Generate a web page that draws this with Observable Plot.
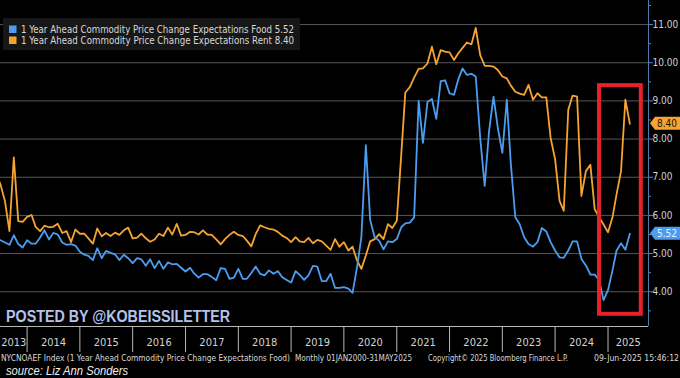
<!DOCTYPE html>
<html>
<head>
<meta charset="utf-8">
<script src="https://cdn.jsdelivr.net/npm/d3@7"></script>
<script src="https://cdn.jsdelivr.net/npm/@observablehq/plot@0.6"></script>
<style>
  body { margin: 0; background: #000; }
  #wrap { position: relative; width: 680px; height: 378px; overflow: hidden; background: #000; }
  #wrap svg { display: block; }
  #overlay { position: absolute; left: 0; top: 0; pointer-events: none; }
</style>
</head>
<body>
<div id="wrap"></div>
<script>
// ---------- data (monthly, first value is June 2013, last is May 2025) ----------
const startMonth = new Date(Date.UTC(2013, 5, 1));

const foodValues = [
  5.40,
  5.35, 5.29, 5.23, 5.48, 5.25, 5.16, 5.35, 5.26, 5.26, 5.42, 5.61, 5.37, 5.54, 5.50, 5.29, 5.23,
  5.25, 5.21, 5.05, 4.97, 4.94, 4.83, 5.14, 4.88, 5.07, 5.02, 4.98, 4.83, 4.97, 4.88, 4.75, 4.88,
  4.85, 4.68, 4.85, 4.62, 4.81, 4.60, 4.77, 4.72, 4.73, 4.63, 4.53, 4.63, 4.48, 4.37, 4.46, 4.46,
  4.39, 4.30, 4.62, 4.60, 4.34, 4.37, 4.60, 4.34, 4.34, 4.49, 4.66, 4.47, 4.43, 4.56, 4.47, 4.54,
  4.38, 4.31, 4.24, 4.54, 4.44, 4.31, 4.43, 4.68, 4.66, 4.28, 4.28, 4.47, 4.10, 4.10, 4.12, 4.08,
  3.97, 4.64, 5.43, 7.84, 5.88, 5.43, 5.34, 5.11, 5.32, 5.30, 5.38, 5.69, 5.79, 5.81, 5.95, 9.00,
  7.90, 8.97, 9.05, 8.53, 9.52, 9.54, 9.20, 9.16, 9.55, 9.85, 9.68, 9.71, 9.64, 8.03, 6.77, 8.20,
  9.11, 8.29, 7.64, 9.03, 7.34, 5.95, 5.77, 5.43, 5.25, 5.18, 5.30, 5.67, 5.58, 5.30, 5.08, 4.90,
  4.89, 5.08, 5.32, 5.32, 4.86, 4.69, 4.45, 4.45, 4.30, 3.78, 4.04, 4.56, 5.08, 5.27, 5.10, 5.52
];

const rentValues = [
  7.10,
  6.81, 6.37, 5.59, 7.52, 5.85, 5.83, 5.96, 6.01, 5.70, 5.59, 5.73, 5.69, 5.70, 5.78, 5.54, 5.59,
  5.30, 5.63, 5.52, 5.52, 5.40, 5.26, 5.66, 5.45, 5.54, 5.46, 5.55, 5.49, 5.61, 5.68, 5.40, 5.42,
  5.52, 5.40, 5.31, 5.37, 5.52, 5.46, 5.68, 5.50, 5.78, 5.47, 5.49, 5.57, 5.56, 5.50, 5.61, 5.50,
  5.49, 5.37, 5.24, 5.38, 5.49, 5.57, 5.49, 5.46, 5.34, 5.19, 5.51, 5.74, 5.69, 5.65, 5.63, 5.57,
  5.47, 5.41, 5.30, 5.43, 5.32, 5.30, 5.41, 5.27, 5.36, 5.32, 5.21, 5.10, 5.38, 5.18, 5.30, 5.08,
  5.18, 4.82, 4.60, 4.95, 5.32, 5.38, 5.51, 5.38, 5.77, 5.67, 5.86, 7.60, 9.22, 9.36, 9.61, 9.84,
  9.85, 9.98, 10.42, 9.96, 10.33, 10.29, 10.27, 10.07, 10.24, 10.39, 10.53, 10.48, 10.91, 10.20, 9.92, 9.92,
  9.90, 9.81, 9.64, 9.59, 9.40, 9.24, 9.19, 9.16, 9.42, 9.03, 9.20, 9.09, 9.09, 8.03, 7.47, 6.38,
  6.12, 8.77, 9.14, 9.11, 6.51, 7.16, 7.33, 6.16, 5.95, 5.76, 5.56, 5.95, 6.55, 7.16, 9.03, 8.40
];

const yearLabels = [2013, 2014, 2015, 2016, 2017, 2018, 2019, 2020, 2021, 2022, 2023, 2024, 2025];
const yTickValues = [4, 5, 6, 7, 8, 9, 10, 11];
const yMinorTicks = [3.5, 4.5, 5.5, 6.5, 7.5, 8.5, 9.5, 10.5, 11.5];
const highlight = [{start: new Date(Date.UTC(2024, 10, 3)), end: new Date(Date.UTC(2025, 7, 19)), low: 3.41, high: 9.40}];
const lastTags = [
  {label: "8.40", value: 8.40, fill: "#f6a431", text: "#1c1206"},
  {label: "5.52", value: 5.52, fill: "#4c9df0", text: "#e4f0ff"}
];
const legendItems = [
  {label: "1 Year Ahead Commodity Price Change Expectations Food 5.52", color: "#4c9df0"},
  {label: "1 Year Ahead Commodity Price Change Expectations Rent 8.40", color: "#f6a431"}
];
const footerParts = [
  {text: "NYCNOAEF Index (1 Year Ahead Commodity Price Change Expectations Food)", x: 1, w: 289},
  {text: "Monthly 01JAN2000-31MAY2025", x: 295, w: 117},
  {text: "Copyright\u00A9 2025 Bloomberg Finance L.P.", x: 428, w: 140},
  {text: "09-Jun-2025 15:46:12", x: 594, w: 85}
];

// ---------- build ----------
const BLUE = "#4c9df0", ORANGE = "#f6a431";
const FONT = "'DejaVu Sans Condensed','DejaVu Sans',sans-serif";
const dates = foodValues.map((_, i) => d3.utcMonth.offset(startMonth, i));
const food = foodValues.map((v, i) => ({date: dates[i], value: v}));
const rent = rentValues.map((v, i) => ({date: dates[i], value: v}));

const xDomain = [new Date(Date.UTC(2013, 6, 1)), new Date(Date.UTC(2025, 9, 8))];
const yDomain = [3.09, 11.63];

const yearStarts = yearLabels.slice(1).map(y => new Date(Date.UTC(y, 0, 1)));
const yearMid = y => {
  const a = Math.max(+new Date(Date.UTC(y, 0, 1)), +xDomain[0]);
  const b = Math.min(+new Date(Date.UTC(y + 1, 0, 1)), +xDomain[1]);
  return new Date((a + b) / 2);
};

const chart = Plot.plot({
  width: 680,
  height: 352,
  marginTop: 0,
  marginLeft: 0,
  marginRight: 32,
  marginBottom: 26,
  style: {background: "#000", color: "#cfcfcf", fontFamily: FONT, overflow: "visible"},
  x: {type: "utc", domain: xDomain},
  y: {domain: yDomain},
  marks: [
    Plot.ruleY(yTickValues, {stroke: "#565656", strokeWidth: 1}),
    Plot.line(rent, {x: "date", y: "value", stroke: ORANGE, strokeWidth: 1.8, clip: true}),
    Plot.line(food, {x: "date", y: "value", stroke: BLUE, strokeWidth: 1.8, clip: true}),
    Plot.rect(highlight, {x1: "start", x2: "end", y1: "low", y2: "high", fill: "none", stroke: "#e5222a", strokeWidth: 4}),
    Plot.ruleX([xDomain[1]], {stroke: "#4f79ab", strokeWidth: 1}),
    Plot.ruleY([yDomain[0]], {stroke: "#b8b8b8", strokeWidth: 1}),
    Plot.axisY(yTickValues, {anchor: "right", tickSize: 4, tickFormat: () => "", color: "#5d8ac0"}),
    Plot.axisY(yMinorTicks, {anchor: "right", tickSize: 2, tickFormat: () => "", color: "#5d8ac0"}),
    Plot.axisY(yTickValues, {anchor: "right", tickSize: 0, tickPadding: 4, tickFormat: d3.format(".2f"), color: "#d2d2d2", fontSize: 10}),
    Plot.axisX(yearStarts, {tickSize: 26, tickFormat: () => "", color: "#b8b8b8"}),
    Plot.text(yearLabels, {x: yearMid, text: d => String(d), frameAnchor: "bottom", dy: 19, fill: "#d2d2d2", fontSize: 11})
  ]
});

const wrap = document.getElementById("wrap");
wrap.appendChild(chart);

// last-value tags on the right axis, placed with the chart's y scale
const yScale = chart.scale("y");
const svg = d3.select(chart);
const tagG = svg.append("g");
for (const t of lastTags) {
  const y = yScale.apply(t.value);
  tagG.append("path")
    .attr("d", `M650,${y} L655,${y - 6.5} L680,${y - 6.5} L680,${y + 6.5} L655,${y + 6.5} Z`)
    .attr("fill", t.fill);
  tagG.append("text")
    .attr("x", 667).attr("y", y).attr("dy", "0.36em")
    .attr("text-anchor", "middle")
    .attr("font-size", 10)
    .attr("font-family", FONT)
    .attr("fill", t.text)
    .text(t.label);
}

// overlay: legend, watermark, footer
const ov = d3.select(wrap).append("svg")
  .attr("id", "overlay")
  .attr("width", 680).attr("height", 378);

ov.append("rect").attr("x", 3).attr("y", 18).attr("width", 297).attr("height", 32).attr("fill", "#171717");
legendItems.forEach((d, i) => {
  ov.append("rect").attr("x", 9).attr("y", 25.5 + i * 11).attr("width", 7.5).attr("height", 7.5).attr("fill", d.color);
  ov.append("text").attr("x", 21).attr("y", 33 + i * 11)
    .attr("font-family", FONT)
    .attr("font-size", 10).attr("fill", "#d8d8d8")
    .attr("textLength", 273).attr("lengthAdjust", "spacingAndGlyphs")
    .text(d.label);
});

ov.append("text").attr("x", 6).attr("y", 321.7)
  .attr("font-family", "'Liberation Sans',Arial,sans-serif")
  .attr("font-weight", "bold").attr("font-size", 16).attr("fill", "#b3c3ec")
  .attr("textLength", 224).attr("lengthAdjust", "spacingAndGlyphs")
  .text("POSTED BY @KOBEISSILETTER");

footerParts.forEach(p => {
  ov.append("text").attr("x", p.x).attr("y", 360.5)
    .attr("font-family", FONT)
    .attr("font-size", 8).attr("fill", "#d8d8d8")
    .attr("textLength", p.w).attr("lengthAdjust", "spacingAndGlyphs")
    .text(p.text);
});

ov.append("text").attr("x", 6).attr("y", 374.5)
  .attr("font-family", "'Liberation Sans',Arial,sans-serif")
  .attr("font-style", "italic").attr("font-size", 12).attr("fill", "#eeeeee")
  .attr("textLength", 122).attr("lengthAdjust", "spacingAndGlyphs")
  .text("source: Liz Ann Sonders");
</script>
</body>
</html>
